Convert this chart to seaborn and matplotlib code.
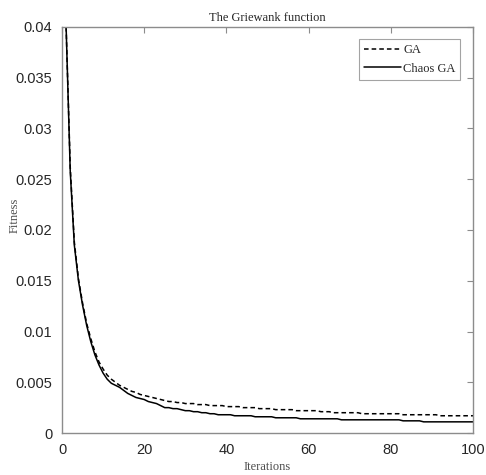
import numpy as np
import pandas as pd
import matplotlib
matplotlib.use("Agg")
import matplotlib.pyplot as plt
import seaborn as sns

# Best fitness per iteration for the Griewank benchmark
iterations = list(range(1, 101))

ga_fitness = [
    0.0400, 0.0262, 0.0188, 0.0152, 0.0128, 0.0108, 0.0093, 0.0080, 0.0070, 0.0063,
    0.0057, 0.0053, 0.0050, 0.0047, 0.0045, 0.0043, 0.0041, 0.0040, 0.0038, 0.0037,
    0.0036, 0.0035, 0.0034, 0.0033, 0.0032, 0.0031, 0.0031, 0.0030, 0.0030, 0.0029,
    0.0029, 0.0029, 0.0028, 0.0028, 0.0028, 0.0027, 0.0027, 0.0027, 0.0027, 0.0026,
    0.0026, 0.0026, 0.0026, 0.0025, 0.0025, 0.0025, 0.0025, 0.0024, 0.0024, 0.0024,
    0.0024, 0.0023, 0.0023, 0.0023, 0.0023, 0.0023, 0.0022, 0.0022, 0.0022, 0.0022,
    0.0022, 0.0022, 0.0021, 0.0021, 0.0021, 0.0020, 0.0020, 0.0020, 0.0020, 0.0020,
    0.0020, 0.0020, 0.0019, 0.0019, 0.0019, 0.0019, 0.0019, 0.0019, 0.0019, 0.0019,
    0.0019, 0.0019, 0.0018, 0.0018, 0.0018, 0.0018, 0.0018, 0.0018, 0.0018, 0.0018,
    0.0018, 0.0017, 0.0017, 0.0017, 0.0017, 0.0017, 0.0017, 0.0017, 0.0017, 0.0017,
]

chaos_ga_fitness = [
    0.0400, 0.0258, 0.0185, 0.0150, 0.0126, 0.0106, 0.0090, 0.0077, 0.0067, 0.0059,
    0.0053, 0.0049, 0.0047, 0.0045, 0.0042, 0.0039, 0.0037, 0.0035, 0.0034, 0.0033,
    0.0031, 0.0030, 0.0029, 0.0027, 0.0025, 0.0025, 0.0024, 0.0024, 0.0023, 0.0022,
    0.0022, 0.0021, 0.0021, 0.0020, 0.0020, 0.0019, 0.0019, 0.0018, 0.0018, 0.0018,
    0.0018, 0.0017, 0.0017, 0.0017, 0.0017, 0.0017, 0.0016, 0.0016, 0.0016, 0.0016,
    0.0016, 0.0015, 0.0015, 0.0015, 0.0015, 0.0015, 0.0015, 0.0014, 0.0014, 0.0014,
    0.0014, 0.0014, 0.0014, 0.0014, 0.0014, 0.0014, 0.0014, 0.0013, 0.0013, 0.0013,
    0.0013, 0.0013, 0.0013, 0.0013, 0.0013, 0.0013, 0.0013, 0.0013, 0.0013, 0.0013,
    0.0013, 0.0013, 0.0012, 0.0012, 0.0012, 0.0012, 0.0012, 0.0011, 0.0011, 0.0011,
    0.0011, 0.0011, 0.0011, 0.0011, 0.0011, 0.0011, 0.0011, 0.0011, 0.0011, 0.0011,
]

series_names = ["GA", "Chaos GA"]

x_ticks = [0, 20, 40, 60, 80, 100]
y_ticks = [0, 0.005, 0.01, 0.015, 0.02, 0.025, 0.03, 0.035, 0.04]
y_tick_labels = ["0", "0.005", "0.01", "0.015", "0.02", "0.025", "0.03", "0.035", "0.04"]

df = pd.DataFrame({
    "Iterations": iterations * 2,
    "Fitness": ga_fitness + chaos_ga_fitness,
    "Method": [series_names[0]] * len(iterations) + [series_names[1]] * len(iterations),
})

sns.set_style("white")
plt.rcParams["font.family"] = ["Liberation Sans", "DejaVu Sans"]

fig = plt.figure(figsize=(4.86, 4.75), dpi=100)
ax = fig.add_axes([0.1276, 0.0884, 0.8456, 0.8548])

sns.lineplot(
    data=df, x="Iterations", y="Fitness", hue="Method", style="Method",
    palette={"GA": "black", "Chaos GA": "black"},
    dashes={"GA": (3, 2), "Chaos GA": ""},
    linewidth=1.1, ax=ax, legend=True,
)

ax.set_xlim(0, 100)
ax.set_ylim(0, 0.04)
ax.set_xticks(x_ticks)
ax.set_yticks(y_ticks)
ax.set_yticklabels(y_tick_labels)

axis_grey = "#8c8c8c"
for sp in ax.spines.values():
    sp.set_visible(True)
    sp.set_color(axis_grey)
    sp.set_linewidth(1.0)
ax.tick_params(direction="in", length=4, width=0.8, color=axis_grey,
               top=True, right=True, labelsize=10.5, labelcolor="#262626", pad=7)

serif = ["Liberation Serif", "DejaVu Serif"]
ax.set_title("The Griewank function", fontsize=9, family=serif, color="#262626", pad=4)
ax.set_xlabel("Iterations", fontsize=9, family=serif, color="#4d4d4d", va="center")
ax.set_ylabel("Fitness", fontsize=9, family=serif, color="#4d4d4d", va="center")
ax.xaxis.set_label_coords(0.5, -0.083)
ax.yaxis.set_label_coords(-0.114, 0.537)

leg = ax.legend(loc="upper right", prop={"family": serif, "size": 9},
                frameon=True, fancybox=False, edgecolor=axis_grey,
                handlelength=3.0, handletextpad=0.15, borderpad=0.4,
                labelspacing=0.5, borderaxespad=1.0)
leg.get_frame().set_linewidth(0.8)

fig.savefig("out.png", dpi=100)
